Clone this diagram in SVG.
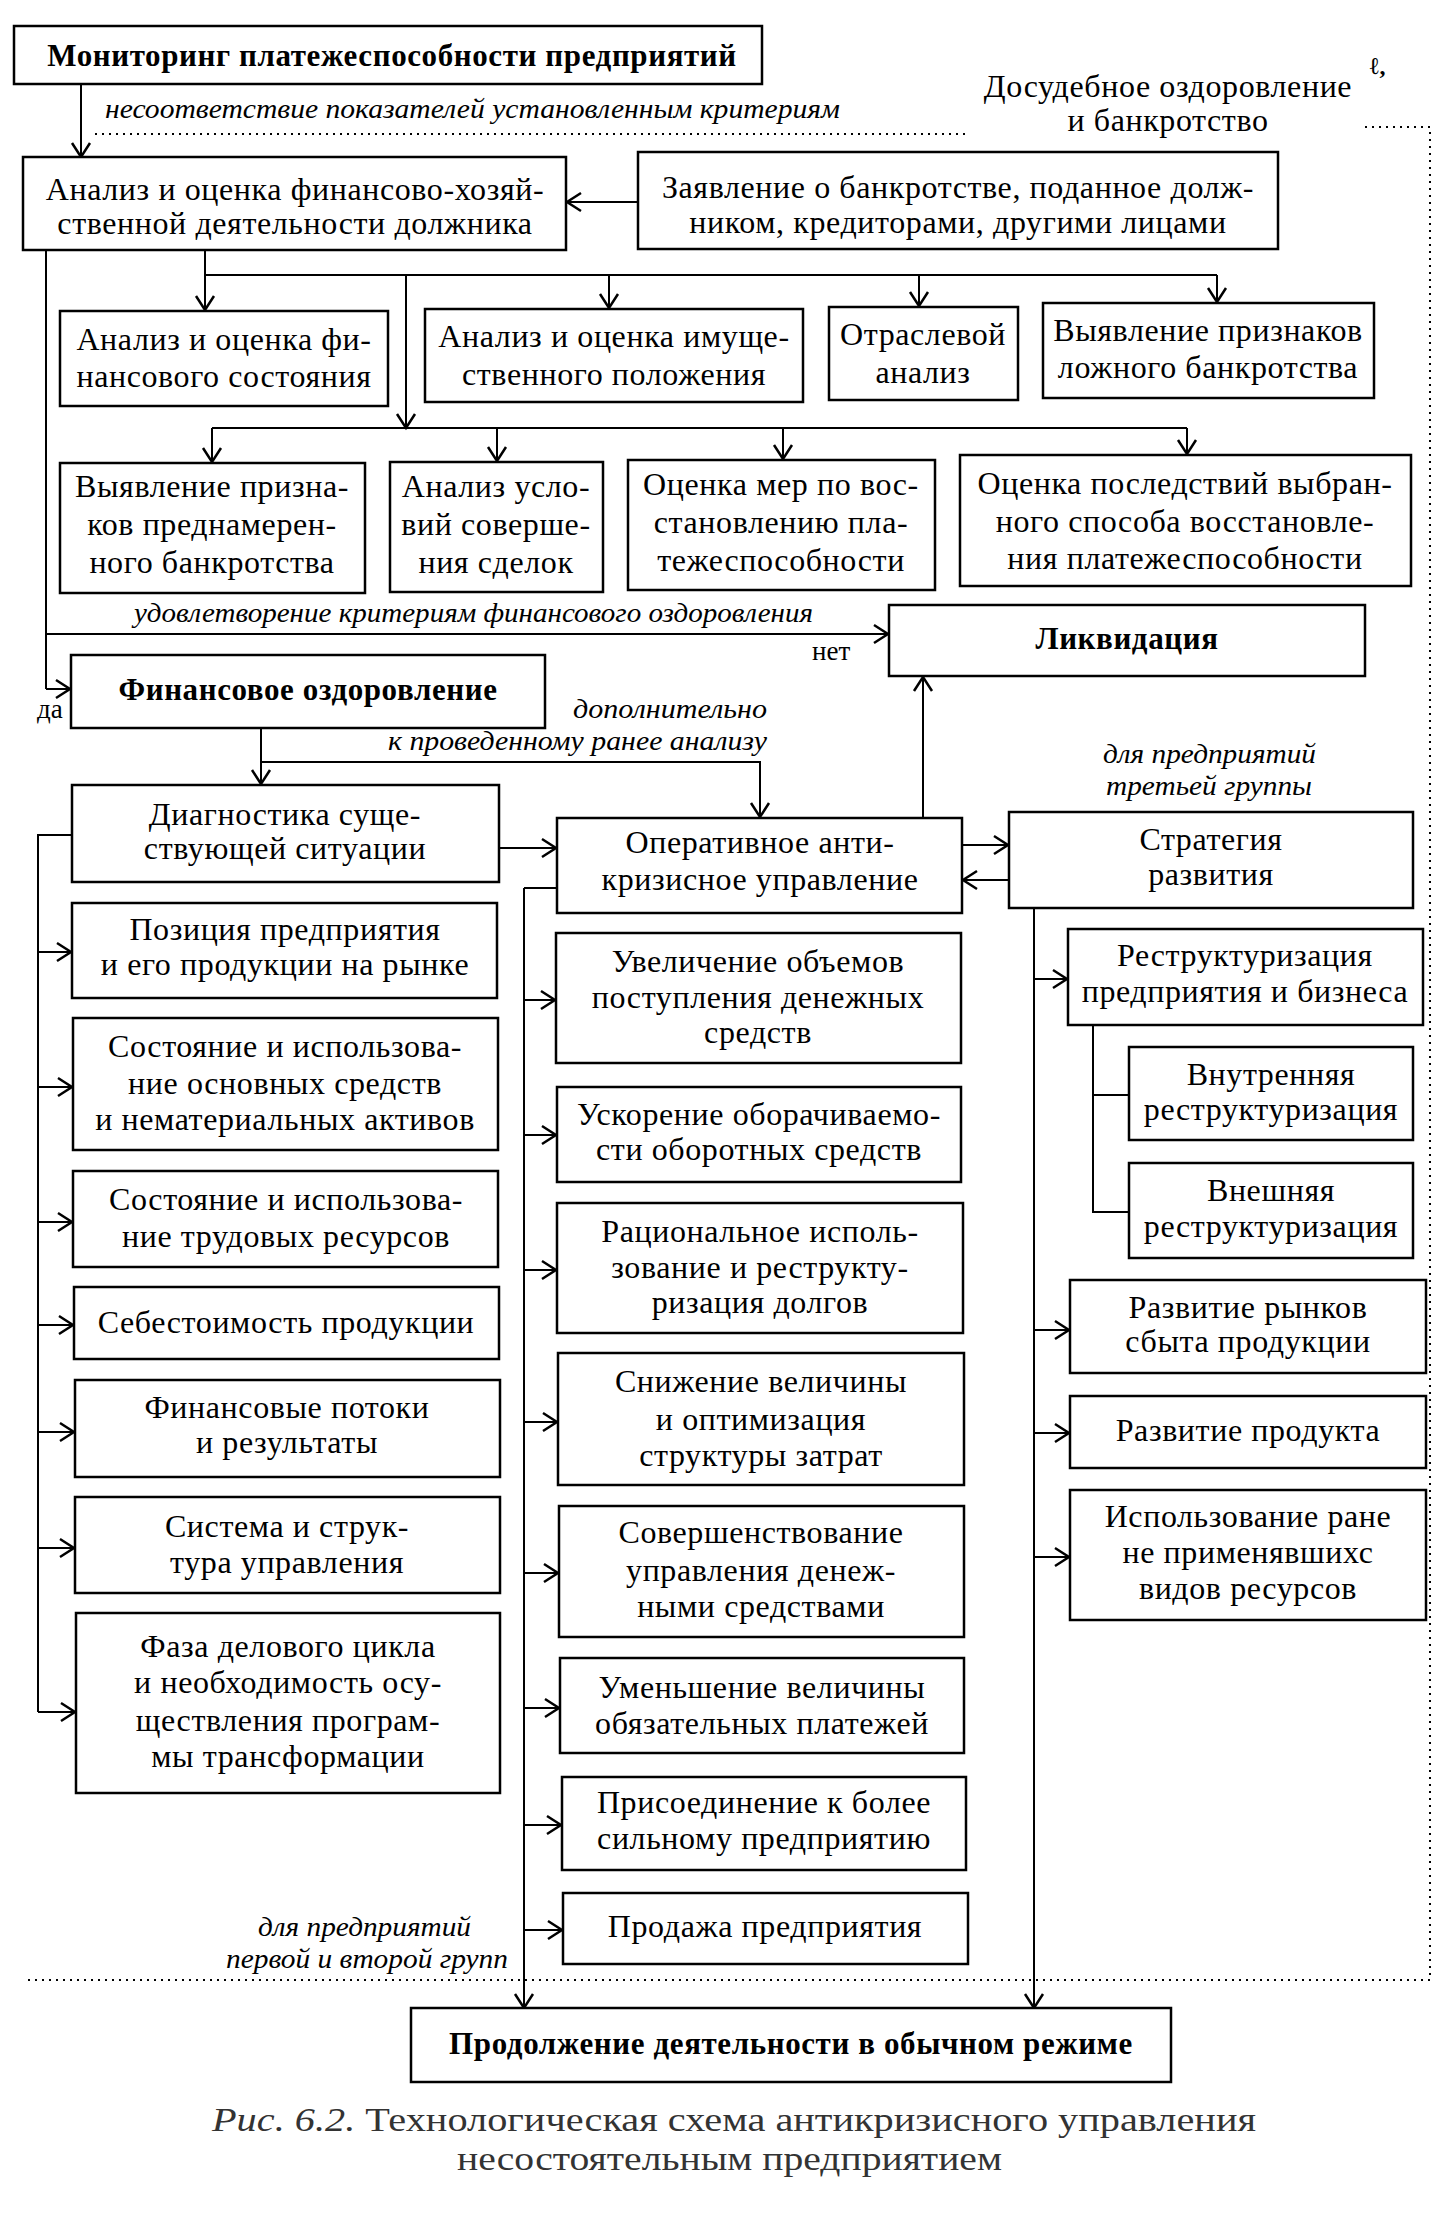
<svg xmlns="http://www.w3.org/2000/svg" width="1441" height="2229" viewBox="0 0 1441 2229">
<style>
.b{fill:#fff;stroke:#000;stroke-width:2.5}
.t{font-family:"Liberation Serif","Times New Roman",serif;font-size:32px;letter-spacing:0.6px;fill:#000;text-anchor:middle}
.tb{font-family:"Liberation Serif","Times New Roman",serif;font-size:31px;font-weight:bold;letter-spacing:0.6px;fill:#000;text-anchor:middle}
.i{font-family:"Liberation Serif","Times New Roman",serif;font-style:italic;font-size:28px;fill:#000}
.r{font-family:"Liberation Serif","Times New Roman",serif;font-size:27px;fill:#000}
.cap{font-family:"Liberation Serif","Times New Roman",serif;font-size:33px;fill:#333}
.c{fill:none;stroke:#000;stroke-width:2}
.a{marker-end:url(#ar)}
.d{fill:none;stroke:#000;stroke-width:2;stroke-dasharray:2 5}
</style>
<defs>
<marker id="ar" markerUnits="userSpaceOnUse" markerWidth="16" markerHeight="20" viewBox="0 0 16 20" refX="15" refY="10" orient="auto" overflow="visible"><path d="M1,1 L15,10 L1,19" fill="none" stroke="#000" stroke-width="2.5"/></marker>
</defs>
<rect x="0" y="0" width="1441" height="2229" fill="#fff"/>

<g id="frame">
<path class="d" d="M95,134 H965"/>
<path class="d" d="M1365,127 H1430 V1980 H28"/>
</g>

<g id="connectors">
<path class="c a" d="M81,84 V157"/>
<path class="c a" d="M638,202 H567"/>
<path class="c" d="M205,250 V275 H1217"/>
<path class="c a" d="M205,275 V310"/>
<path class="c a" d="M609,275 V308"/>
<path class="c a" d="M919,275 V306"/>
<path class="c a" d="M1217,275 V302"/>
<path class="c a" d="M406,275 V428"/>
<path class="c" d="M212,428 H1187"/>
<path class="c a" d="M212,428 V462"/>
<path class="c a" d="M497,428 V461"/>
<path class="c a" d="M783,428 V459"/>
<path class="c a" d="M1187,428 V454"/>
<path class="c" d="M46,250 V689"/>
<path class="c a" d="M46,634 H888"/>
<path class="c a" d="M46,689 H70"/>
<path class="c a" d="M261,728 V784"/>
<path class="c a" d="M261,762 H760 V817"/>
<path class="c a" d="M923,818 V677"/>
<path class="c a" d="M499,848 H556"/>
<path class="c a" d="M962,845 H1008"/>
<path class="c a" d="M1009,880 H963"/>
<path class="c" d="M72,835 H38 V1712"/>
<path class="c a" d="M38,952 H71"/>
<path class="c a" d="M38,1087 H72"/>
<path class="c a" d="M38,1222 H72"/>
<path class="c a" d="M38,1325 H73"/>
<path class="c a" d="M38,1432 H74"/>
<path class="c a" d="M38,1548 H74"/>
<path class="c a" d="M38,1712 H75"/>
<path class="c" d="M557,888 H524"/>
<path class="c a" d="M524,888 V2008"/>
<path class="c a" d="M524,1000 H555"/>
<path class="c a" d="M524,1135 H556"/>
<path class="c a" d="M524,1270 H556"/>
<path class="c a" d="M524,1422 H557"/>
<path class="c a" d="M524,1573 H558"/>
<path class="c a" d="M524,1708 H559"/>
<path class="c a" d="M524,1825 H561"/>
<path class="c a" d="M524,1930 H562"/>
<path class="c a" d="M1034,908 V2008"/>
<path class="c a" d="M1034,979 H1067"/>
<path class="c a" d="M1034,1330 H1069"/>
<path class="c a" d="M1034,1433 H1069"/>
<path class="c a" d="M1034,1557 H1069"/>
<path class="c" d="M1093,1025 V1212 H1129"/>
<path class="c" d="M1093,1095 H1129"/>
</g>

<g id="labels">
<text class="i" x="105" y="118" textLength="735" lengthAdjust="spacingAndGlyphs">несоответствие показателей установленным критериям</text>
<text class="t" x="1168" y="97">Досудебное оздоровление</text>
<text class="t" x="1168" y="131">и банкротство</text>
<text class="tb" x="1378" y="74" style="font-size:24px">ℓ,</text>
<text class="i" x="134" y="622" textLength="679" lengthAdjust="spacingAndGlyphs">удовлетворение критериям финансового оздоровления</text>
<text class="r" x="812" y="660">нет</text>
<text class="r" x="37" y="718">да</text>
<text class="i" x="573" y="718" textLength="194" lengthAdjust="spacingAndGlyphs">дополнительно</text>
<text class="i" x="388" y="750" textLength="379" lengthAdjust="spacingAndGlyphs">к проведенному ранее анализу</text>
<text class="i" x="1103" y="763" textLength="213" lengthAdjust="spacingAndGlyphs">для предприятий</text>
<text class="i" x="1106" y="795" textLength="206" lengthAdjust="spacingAndGlyphs">третьей группы</text>
<text class="i" x="258" y="1936" textLength="213" lengthAdjust="spacingAndGlyphs">для предприятий</text>
<text class="i" x="226" y="1968" textLength="282" lengthAdjust="spacingAndGlyphs">первой и второй групп</text>
<text class="cap" x="212" y="2131" textLength="1044" lengthAdjust="spacingAndGlyphs"><tspan font-style="italic">Рис. 6.2.</tspan> Технологическая схема антикризисного управления</text>
<text class="cap" x="457" y="2170" textLength="545" lengthAdjust="spacingAndGlyphs">несостоятельным предприятием</text>
</g>

<g id="n1"><rect class="b" x="14" y="26" width="748" height="58"/><text class="tb" x="392" y="66">Мониторинг платежеспособности предприятий</text></g>
<g id="n2"><rect class="b" x="23" y="157" width="543" height="93"/><text class="t" x="295" y="200">Анализ и оценка финансово-хозяй-</text><text class="t" x="295" y="234">ственной деятельности должника</text></g>
<g id="n3"><rect class="b" x="638" y="152" width="640" height="97"/><text class="t" x="958" y="198">Заявление о банкротстве, поданное долж-</text><text class="t" x="958" y="233">ником, кредиторами, другими лицами</text></g>
<g id="n4"><rect class="b" x="60" y="311" width="328" height="95"/><text class="t" x="224" y="350">Анализ и оценка фи-</text><text class="t" x="224" y="387">нансового состояния</text></g>
<g id="n5"><rect class="b" x="425" y="309" width="378" height="93"/><text class="t" x="614" y="347">Анализ и оценка имуще-</text><text class="t" x="614" y="385">ственного положения</text></g>
<g id="n6"><rect class="b" x="829" y="307" width="189" height="93"/><text class="t" x="923" y="345">Отраслевой</text><text class="t" x="923" y="383">анализ</text></g>
<g id="n7"><rect class="b" x="1043" y="303" width="331" height="95"/><text class="t" x="1208" y="341">Выявление признаков</text><text class="t" x="1208" y="378">ложного банкротства</text></g>
<g id="n8"><rect class="b" x="60" y="463" width="305" height="130"/><text class="t" x="212" y="497">Выявление призна-</text><text class="t" x="212" y="535">ков преднамерен-</text><text class="t" x="212" y="573">ного банкротства</text></g>
<g id="n9"><rect class="b" x="390" y="462" width="213" height="130"/><text class="t" x="496" y="497">Анализ усло-</text><text class="t" x="496" y="535">вий соверше-</text><text class="t" x="496" y="573">ния сделок</text></g>
<g id="n10"><rect class="b" x="628" y="460" width="307" height="130"/><text class="t" x="781" y="495">Оценка мер по вос-</text><text class="t" x="781" y="533">становлению пла-</text><text class="t" x="781" y="571">тежеспособности</text></g>
<g id="n11"><rect class="b" x="960" y="455" width="451" height="131"/><text class="t" x="1185" y="494">Оценка последствий выбран-</text><text class="t" x="1185" y="532">ного способа восстановле-</text><text class="t" x="1185" y="569">ния платежеспособности</text></g>
<g id="n12"><rect class="b" x="889" y="605" width="476" height="71"/><text class="tb" x="1127" y="649">Ликвидация</text></g>
<g id="n13"><rect class="b" x="71" y="655" width="474" height="73"/><text class="tb" x="308" y="700">Финансовое оздоровление</text></g>
<g id="n14"><rect class="b" x="72" y="785" width="427" height="97"/><text class="t" x="285" y="825">Диагностика суще-</text><text class="t" x="285" y="859">ствующей ситуации</text></g>
<g id="n15"><rect class="b" x="557" y="818" width="405" height="95"/><text class="t" x="760" y="853">Оперативное анти-</text><text class="t" x="760" y="890">кризисное управление</text></g>
<g id="n16"><rect class="b" x="1009" y="812" width="404" height="96"/><text class="t" x="1211" y="850">Стратегия</text><text class="t" x="1211" y="885">развития</text></g>
<g id="n17"><rect class="b" x="72" y="903" width="425" height="95"/><text class="t" x="285" y="940">Позиция предприятия</text><text class="t" x="285" y="975">и его продукции на рынке</text></g>
<g id="n18"><rect class="b" x="73" y="1018" width="425" height="132"/><text class="t" x="285" y="1057">Состояние и использова-</text><text class="t" x="285" y="1094">ние основных средств</text><text class="t" x="285" y="1130">и нематериальных активов</text></g>
<g id="n19"><rect class="b" x="73" y="1171" width="425" height="96"/><text class="t" x="286" y="1210">Состояние и использова-</text><text class="t" x="286" y="1247">ние трудовых ресурсов</text></g>
<g id="n20"><rect class="b" x="74" y="1287" width="425" height="72"/><text class="t" x="286" y="1333">Себестоимость продукции</text></g>
<g id="n21"><rect class="b" x="75" y="1380" width="425" height="97"/><text class="t" x="287" y="1418">Финансовые потоки</text><text class="t" x="287" y="1453">и результаты</text></g>
<g id="n22"><rect class="b" x="75" y="1497" width="425" height="96"/><text class="t" x="287" y="1537">Система и струк-</text><text class="t" x="287" y="1573">тура управления</text></g>
<g id="n23"><rect class="b" x="76" y="1613" width="424" height="180"/><text class="t" x="288" y="1657">Фаза делового цикла</text><text class="t" x="288" y="1693">и необходимость осу-</text><text class="t" x="288" y="1731">ществления програм-</text><text class="t" x="288" y="1767">мы трансформации</text></g>
<g id="n24"><rect class="b" x="556" y="933" width="405" height="130"/><text class="t" x="758" y="972">Увеличение объемов</text><text class="t" x="758" y="1008">поступления денежных</text><text class="t" x="758" y="1043">средств</text></g>
<g id="n25"><rect class="b" x="557" y="1087" width="404" height="95"/><text class="t" x="759" y="1125">Ускорение оборачиваемо-</text><text class="t" x="759" y="1160">сти оборотных средств</text></g>
<g id="n26"><rect class="b" x="557" y="1203" width="406" height="130"/><text class="t" x="760" y="1242">Рациональное исполь-</text><text class="t" x="760" y="1278">зование и реструкту-</text><text class="t" x="760" y="1313">ризация долгов</text></g>
<g id="n27"><rect class="b" x="558" y="1353" width="406" height="132"/><text class="t" x="761" y="1392">Снижение величины</text><text class="t" x="761" y="1430">и оптимизация</text><text class="t" x="761" y="1466">структуры затрат</text></g>
<g id="n28"><rect class="b" x="559" y="1506" width="405" height="131"/><text class="t" x="761" y="1543">Совершенствование</text><text class="t" x="761" y="1581">управления денеж-</text><text class="t" x="761" y="1617">ными средствами</text></g>
<g id="n29"><rect class="b" x="560" y="1658" width="404" height="95"/><text class="t" x="762" y="1698">Уменьшение величины</text><text class="t" x="762" y="1734">обязательных платежей</text></g>
<g id="n30"><rect class="b" x="562" y="1777" width="404" height="93"/><text class="t" x="764" y="1813">Присоединение к более</text><text class="t" x="764" y="1849">сильному предприятию</text></g>
<g id="n31"><rect class="b" x="563" y="1893" width="405" height="71"/><text class="t" x="765" y="1937">Продажа предприятия</text></g>
<g id="n32"><rect class="b" x="1068" y="929" width="355" height="96"/><text class="t" x="1245" y="966">Реструктуризация</text><text class="t" x="1245" y="1002">предприятия и бизнеса</text></g>
<g id="n33"><rect class="b" x="1129" y="1047" width="284" height="93"/><text class="t" x="1271" y="1085">Внутренняя</text><text class="t" x="1271" y="1120">реструктуризация</text></g>
<g id="n34"><rect class="b" x="1129" y="1163" width="284" height="95"/><text class="t" x="1271" y="1201">Внешняя</text><text class="t" x="1271" y="1237">реструктуризация</text></g>
<g id="n35"><rect class="b" x="1070" y="1280" width="356" height="93"/><text class="t" x="1248" y="1318">Развитие рынков</text><text class="t" x="1248" y="1352">сбыта продукции</text></g>
<g id="n36"><rect class="b" x="1070" y="1396" width="356" height="72"/><text class="t" x="1248" y="1441">Развитие продукта</text></g>
<g id="n37"><rect class="b" x="1070" y="1490" width="356" height="130"/><text class="t" x="1248" y="1527">Использование ране</text><text class="t" x="1248" y="1563">не применявшихс</text><text class="t" x="1248" y="1599">видов ресурсов</text></g>
<g id="n38"><rect class="b" x="411" y="2008" width="760" height="74"/><text class="tb" x="791" y="2054">Продолжение деятельности в обычном режиме</text></g>
</svg>
